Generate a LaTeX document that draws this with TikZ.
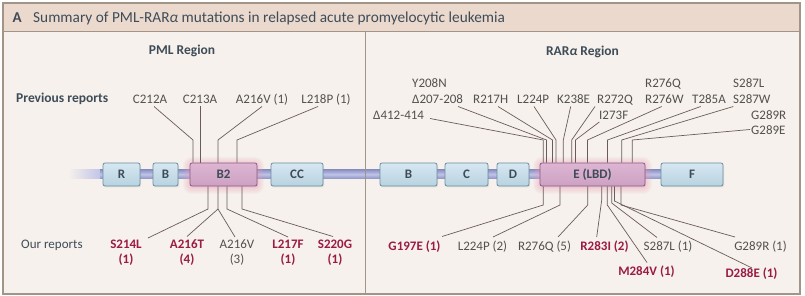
\documentclass[tikz,border=0pt]{standalone}
\usepackage{fontspec}
\setmainfont{Carlito}
\usetikzlibrary{shadows}
\definecolor{bodybg}{HTML}{F6F1EC}
\definecolor{titlebg}{HTML}{EBD9CD}
\definecolor{framec}{HTML}{A39488}
\definecolor{hdr}{HTML}{3E4C58}
\definecolor{gtxt}{HTML}{53514F}
\definecolor{rtxt}{HTML}{9B1B45}
\definecolor{connc}{HTML}{6B5B57}
\definecolor{bbmid}{HTML}{C0C4E8}
\definecolor{bbedge}{HTML}{8A90C2}
\definecolor{btop}{HTML}{D6E8F2}
\definecolor{bbot}{HTML}{B8D2E0}
\definecolor{bdraw}{HTML}{6C8E9E}
\definecolor{ptop}{HTML}{DDB6D3}
\definecolor{pbot}{HTML}{CDA0C2}
\definecolor{pdraw}{HTML}{8A5C88}
\definecolor{glowc}{HTML}{F2A0BA}
\tikzset{
  conn/.style={draw=connc, line width=0.7pt},
  lbl/.style={font=\fontsize{13}{15}\selectfont, text=gtxt, inner sep=0pt, anchor=base},
  lblw/.style={lbl, anchor=base west},
  rlbl/.style={lbl, font=\fontsize{13}{15}\selectfont\bfseries, text=rtxt},
  hdrtxt/.style={font=\fontsize{13.5}{16}\selectfont\bfseries, text=hdr, inner sep=0pt, anchor=base},
  dom/.style={draw=bdraw, line width=0.8pt, rounded corners=2pt, top color=btop, bottom color=bbot,
    minimum height=23pt, inner sep=0pt, font=\fontsize{13}{15}\selectfont\bfseries, text=hdr,
    drop shadow={opacity=0.15, shadow xshift=1pt, shadow yshift=-1.5pt}},
  pdom/.style={dom, draw=pdraw, top color=ptop, bottom color=pbot},
}
\begin{document}
\begin{tikzpicture}[x=1pt,y=-1pt]
\useasboundingbox (0,0) rectangle (805,296);
% frame
\fill[white] (0,0) rectangle (805,296);
\fill[bodybg] (3,3) rectangle (800,294);
\fill[titlebg] (3,3) rectangle (800,32);
\draw[framec, line width=1pt] (3,32) -- (800,32);
\draw[framec, line width=1.2pt] (3,3) rectangle (800,294);
\node[anchor=base west, font=\fontsize{15}{18}\selectfont\bfseries, text=hdr, inner sep=0pt] (A) at (12.5,22.5) {A};
\node[anchor=base west, font=\fontsize{15.3}{18}\selectfont, text=hdr, inner sep=0pt] (title) at (33,22.5) {Summary of PML-RAR{\itshape α} mutations in relapsed acute promyelocytic leukemia};

% region headings
\node[hdrtxt] (pmlr) at (182,54.5) {PML Region};
\node[hdrtxt] (rarr) at (582.5,55.5) {RAR{\itshape α} Region};
\node[hdrtxt, anchor=base west] (prev) at (16,102.8) {Previous reports};
\node[lbl, anchor=base west, text=hdr] (our) at (21,248.4) {Our reports};

% backbone
\shade[left color=bodybg, right color=bbmid] (68,169.5) rectangle (101,179);
\shade[top color=bbedge, bottom color=bbedge, middle color=bbmid] (100,169.5) rectangle (661,179);
% divider
\draw[framec, line width=1pt] (365,32) -- (365,294);

% glows
\foreach \i in {1,...,7}{
  \fill[glowc, opacity=0.07, rounded corners=2pt+\i pt] (190-\i,163-\i+1) rectangle (257+\i,186+\i+1);
  \fill[glowc, opacity=0.07, rounded corners=2pt+\i pt] (540-\i,163-\i+1) rectangle (645+\i,186+\i+1);
}

% domains
\node[dom, minimum width=37pt] (R) at (121.5,174.5) {R};
\node[dom, minimum width=25pt] (B1) at (165.5,174.5) {B};
\node[pdom, minimum width=67pt] (B2) at (223.5,174.5) {B2};
\node[dom, minimum width=52pt] (CC) at (297,174.5) {CC};
\node[dom, minimum width=57pt] (Bd) at (408.5,174.5) {B};
\node[dom, minimum width=43pt] (Cd) at (466.5,174.5) {C};
\node[dom, minimum width=32pt] (Dd) at (513,174.5) {D};
\node[pdom, minimum width=105pt] (E) at (592.5,174.5) {E (LBD)};
\node[dom, minimum width=62pt] (F) at (692,174.5) {F};

% PML previous
\node[lbl] (c212) at (150,103.4) {C212A};
\node[lbl] (c213) at (200,103.4) {C213A};
\node[lbl] (a216v) at (262,103.4) {A216V (1)};
\node[lbl] (l218p) at (326,103.4) {L218P (1)};
\draw[conn] (154,106.5) -- (193,140) -- (193,0 |- B2.north);
\draw[conn] (200,106.5) -- (200,0 |- B2.north);
\draw[conn] (262,106.5) -- (218,140) -- (218,0 |- B2.north);
\draw[conn] (318,106.5) -- (237,140) -- (237,0 |- B2.north);

% PML our
\node[rlbl] (s214l) at (126,248.4) {S214L};
\node[rlbl] (s214n) at (126,263.4) {(1)};
\node[rlbl] (a216t) at (187,248.4) {A216T};
\node[rlbl] (a216tn) at (187,263.4) {(4)};
\node[lbl] (a216vo) at (237,248.4) {A216V};
\node[lbl] (a216von) at (237,263.4) {(3)};
\node[rlbl] (l217f) at (288,248.4) {L217F};
\node[rlbl] (l217fn) at (288,263.4) {(1)};
\node[rlbl] (s220g) at (335,248.4) {S220G};
\node[rlbl] (s220gn) at (335,263.4) {(1)};
\draw[conn] (208,0 |- B2.south) -- (208,209) -- (148,238);
\draw[conn] (218,0 |- B2.south) -- (218,209) -- (187,236.5);
\draw[conn] (218,209) -- (235,237);
\draw[conn] (227,0 |- B2.south) -- (227,209) -- (288,237);
\draw[conn] (242,0 |- B2.south) -- (242,209) -- (333,236.5);

% RAR previous
\node[lblw] (y208n) at (412,87.4) {Y208N};
\node[lblw] (d207) at (412,103.4) {Δ207-208};
\node[lblw] (d412) at (373,119.4) {Δ412-414};
\node[lblw] (r217h) at (473,103.4) {R217H};
\node[lblw] (l224p) at (517,103.4) {L224P};
\node[lblw] (k238e) at (557,103.4) {K238E};
\node[lblw] (r272q) at (597,103.4) {R272Q};
\node[lblw] (i273f) at (599,119.4) {I273F};
\node[lblw] (r276q) at (645,87.4) {R276Q};
\node[lblw] (r276w) at (645,103.4) {R276W};
\node[lblw] (t285a) at (692,103.4) {T285A};
\node[lblw] (s287l) at (733,87.4) {S287L};
\node[lblw] (s287w) at (733,103.4) {S287W};
\node[lblw] (g289r) at (751,119.4) {G289R};
\node[lblw] (g289e) at (751,134.4) {G289E};
\draw[conn] (430,118.5) -- (543.3,140) -- (543.3,0 |- E.north);
\draw[conn] (458,106.5) -- (546.5,140) -- (546.5,0 |- E.north);
\draw[conn] (498,106.5) -- (552.5,140) -- (552.5,0 |- E.north);
\draw[conn] (534,106.5) -- (556,140) -- (556,0 |- E.north);
\draw[conn] (570.7,106.5) -- (563.3,140) -- (563.3,0 |- E.north);
\draw[conn] (595,106.5) -- (571.7,140) -- (571.7,0 |- E.north);
\draw[conn] (599.3,122) -- (575.5,140) -- (575.5,0 |- E.north);
\draw[conn] (661.7,106.5) -- (587.5,140) -- (587.5,0 |- E.north);
\draw[conn] (700.7,106.5) -- (607.5,140) -- (607.5,0 |- E.north);
\draw[conn] (733.3,106.5) -- (621.7,140) -- (621.7,0 |- E.north);
\draw[conn] (750,129.5) -- (632.3,140) -- (632.3,0 |- E.north);

% RAR our
\node[rlbl] (g197e) at (414.5,250.4) {G197E (1)};
\node[lbl] (l224po) at (482.5,250.4) {L224P (2)};
\node[lbl] (r276qo) at (544.5,250.4) {R276Q (5)};
\node[rlbl] (r283i) at (604.5,250.4) {R283I (2)};
\node[rlbl] (m284v) at (646.5,275.4) {M284V (1)};
\node[lbl] (s287lo) at (668,250.4) {S287L (1)};
\node[rlbl] (d288e) at (751.5,277.4) {D288E (1)};
\node[lbl] (g289ro) at (760.5,250.4) {G289R (1)};
\draw[conn] (543.3,0 |- E.south) -- (543.3,205) -- (442,236.5);
\draw[conn] (560,0 |- E.south) -- (560,205) -- (493,237);
\draw[conn] (587.7,0 |- E.south) -- (587.7,205) -- (558,237);
\draw[conn] (601.7,0 |- E.south) -- (601.7,200) -- (596.7,237);
\draw[conn] (607.3,0 |- E.south) -- (607.3,205) -- (647,262.5);
\draw[conn] (611.7,0 |- E.south) -- (611.7,203) -- (657,237.5);
\draw[conn] (614.5,0 |- E.south) -- (614.5,201) -- (752,268);
\draw[conn] (621,0 |- E.south) -- (621,205) -- (735,237);
\end{tikzpicture}
\end{document}
